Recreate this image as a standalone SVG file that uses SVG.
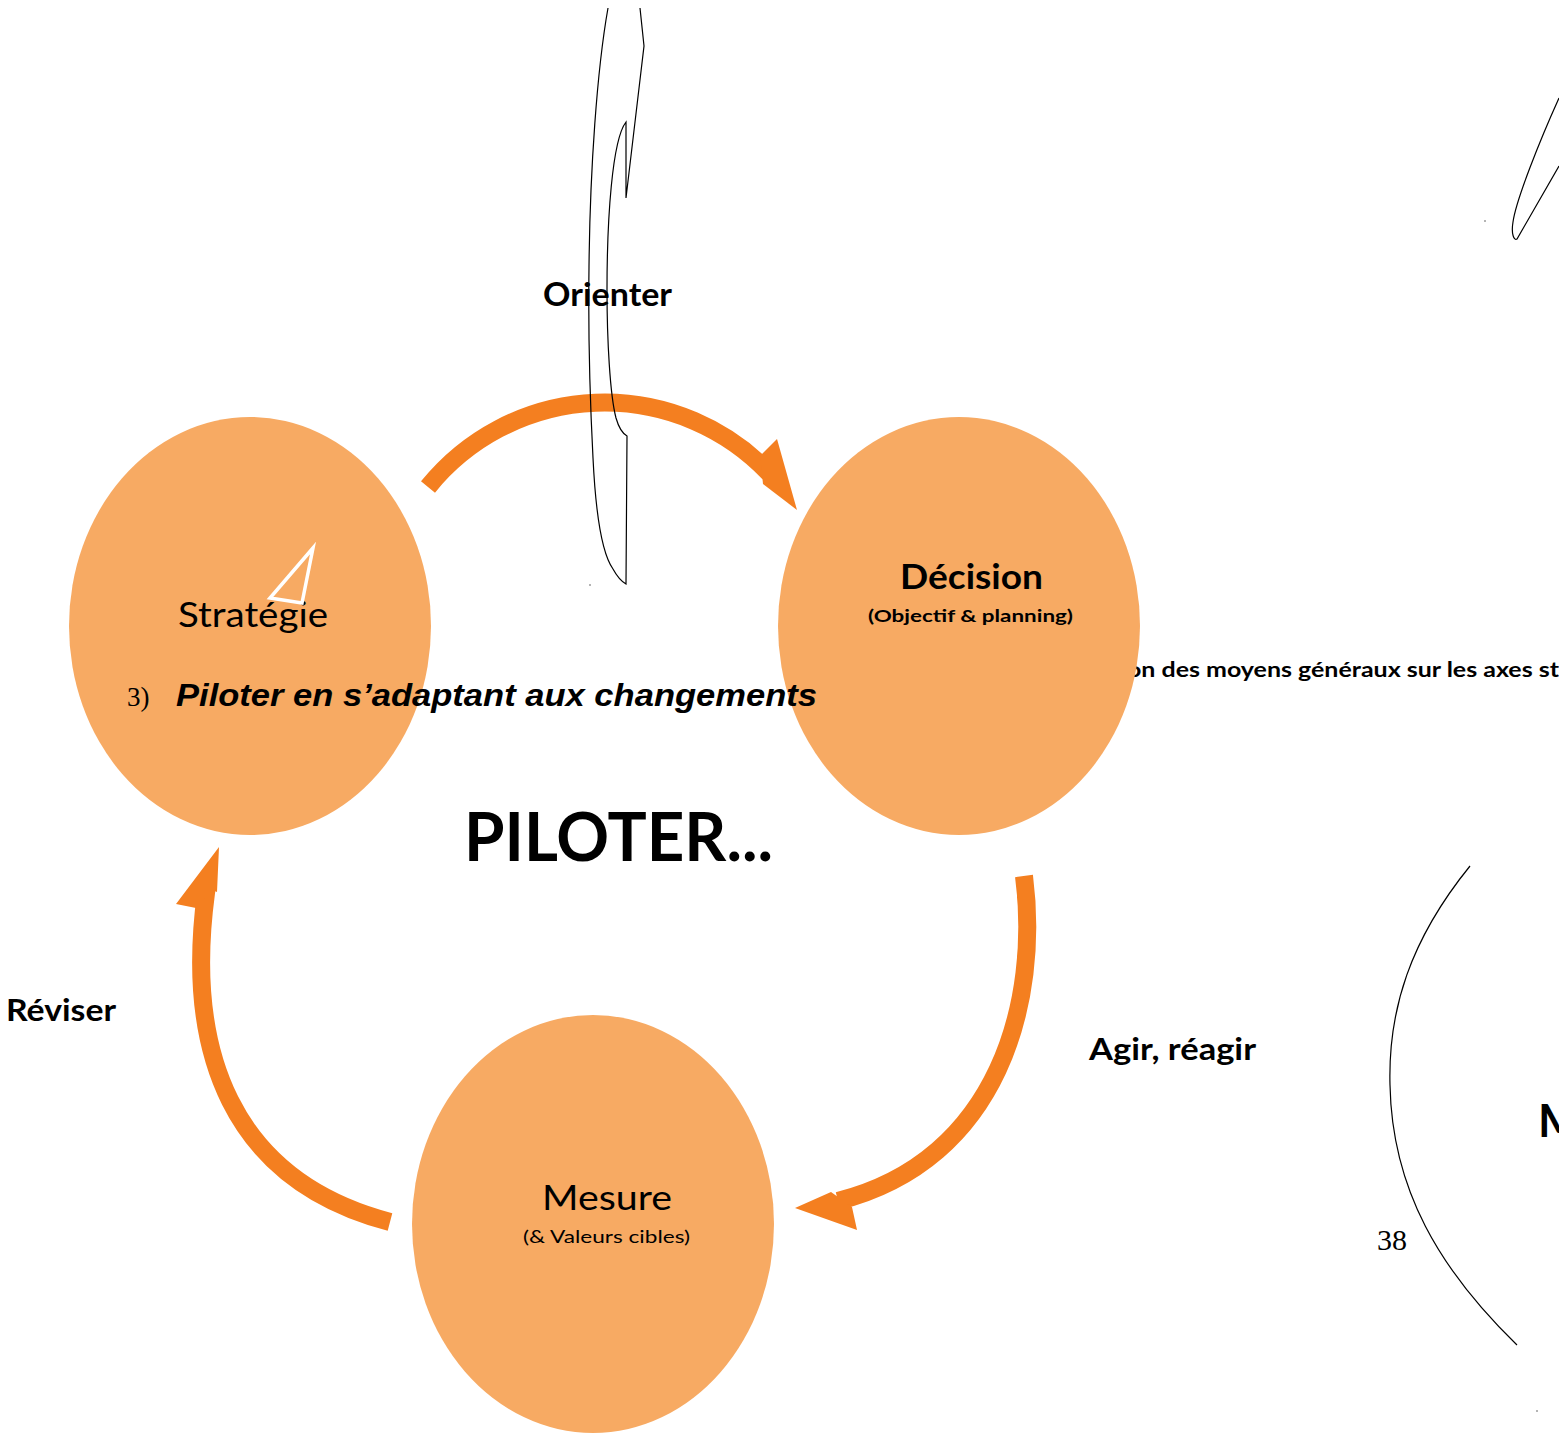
<svg xmlns="http://www.w3.org/2000/svg" width="1559" height="1433" viewBox="0 0 1559 1433">
<style>
.node{fill:#F7AA63;}
.arr{fill:none;stroke:#F47F20;stroke-width:18;}
.head{fill:#F47F20;}
.thin{fill:none;stroke:#000;stroke-width:1.2;}
.lb{font-family:Lato,"Open Sans",sans-serif;font-weight:bold;fill:#000;}
.lr{font-family:Lato,"Open Sans",sans-serif;fill:#000;}
</style>
<rect width="1559" height="1433" fill="#fff"/>
<text class="lb" x="1127" y="677" font-size="21" textLength="432" lengthAdjust="spacingAndGlyphs">on des moyens généraux sur les axes st</text>
<g id="strategie">
<ellipse class="node" cx="250" cy="626" rx="181" ry="209"/>
<text class="lr" x="178" y="627" font-size="35" textLength="150" lengthAdjust="spacingAndGlyphs">Stratégie</text>
<polygon points="313,548 270,598 302,603" fill="none" stroke="#fff" stroke-width="3.5" stroke-linejoin="miter"/>
</g>
<g id="decision">
<ellipse class="node" cx="959" cy="626" rx="181" ry="209"/>
<text class="lb" x="900" y="589" font-size="34" textLength="143" lengthAdjust="spacingAndGlyphs">Décision</text>
<text class="lb" x="868" y="622" font-size="17" textLength="205" lengthAdjust="spacingAndGlyphs">(Objectif &amp; planning)</text>
</g>
<g id="mesure">
<ellipse class="node" cx="593" cy="1224" rx="181" ry="209"/>
<text class="lr" x="542" y="1210" font-size="35" textLength="130" lengthAdjust="spacingAndGlyphs">Mesure</text>
<text class="lr" x="523" y="1243" font-size="18" textLength="167" lengthAdjust="spacingAndGlyphs">(&amp; Valeurs cibles)</text>
</g>
<g id="connectors">
<path class="arr" d="M428,487 A227,227 0 0 1 769,473"/>
<polygon class="head" points="760,456 777,439 797,510 763,484"/>
<path class="arr" d="M1024,876 C1040,1000 1000,1160 838,1201"/>
<polygon class="head" points="831,1192 795,1208 857,1230 852,1207"/>
<path class="arr" d="M390,1222 C230,1180 185,1050 206,893 L208,878"/>
<polygon class="head" points="219,847 176,904 196,908 212,890 217,892"/>
</g>
<g id="labels">
<text class="lb" x="543" y="306" font-size="33" textLength="129" lengthAdjust="spacingAndGlyphs">Orienter</text>
<text class="lb" x="6" y="1021" font-size="31" textLength="110" lengthAdjust="spacingAndGlyphs">Réviser</text>
<text class="lb" x="1089" y="1060" font-size="31" textLength="167" lengthAdjust="spacingAndGlyphs">Agir, réagir</text>
<text class="lb" x="464" y="861" font-size="66" textLength="309" lengthAdjust="spacingAndGlyphs">PILOTER...</text>
<text class="lb" x="1538" y="1137" font-size="45">M</text>
<text x="127" y="706" font-family="'Liberation Serif',serif" font-size="27">3)</text>
<text x="176" y="706" font-family="'Liberation Sans',Arial,sans-serif" font-weight="bold" font-style="italic" font-size="32" textLength="641" lengthAdjust="spacingAndGlyphs">Piloter en s’adaptant aux changements</text>
<text x="1377" y="1250" font-family="'Liberation Serif',serif" font-size="30">38</text>
</g>
<g id="sketch">
<path class="thin" d="M608,8 C597,70 590,170 589,267 C588,340 590,400 593,458 C596,520 603,555 613,569 Q619,580 626,584 L627,436 Q620,432 616,418 C610,395 607,340 607,290 C607,220 612,140 626,122 L626,198 L644,46 L640,8"/>
<path class="thin" d="M1559,98 C1540,140 1516,200 1513,222 C1511,234 1514,241 1517,239 L1559,166"/>
<path class="thin" d="M1470,866 C1410,940 1388,1010 1390,1085 C1392,1190 1440,1270 1517,1345"/>
<circle cx="590" cy="585" r="0.8" fill="#555"/>
<circle cx="1485" cy="221" r="0.8" fill="#555"/>
<circle cx="1537" cy="1411" r="0.8" fill="#555"/>
</g>
</svg>
